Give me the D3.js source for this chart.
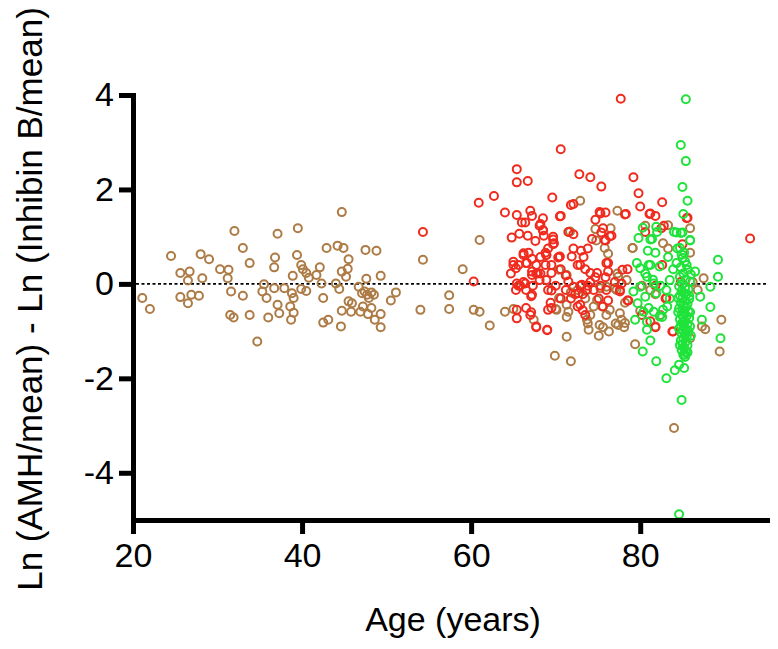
<!DOCTYPE html>
<html><head><meta charset="utf-8">
<script src="https://cdn.jsdelivr.net/npm/d3@7"></script>
<style>body{margin:0;background:#fff} svg{display:block} text{font-family:"Liberation Sans",Arial,sans-serif}</style>
</head><body><svg id="c" width="778" height="649"></svg>
<script>
const xTicks=[20,40,60,80];
const yTicks=[4,2,0,-2,-4];
const xTitle="Age (years)";
const yTitle="Ln (AMH/mean) - Ln (Inhibin B/mean)";

const brown=[[21.1,-0.30],[22.0,-0.53],[24.5,0.59],[25.6,0.23],[26.7,0.26],[26.5,0.07],[25.6,-0.28],[26.9,-0.23],[26.5,-0.41],[27.8,-0.25],[28.0,0.63],[29.0,0.52],[28.2,0.12],[30.3,0.31],[31.3,0.30],[31.2,0.12],[31.6,-0.16],[32.0,1.12],[33.0,0.76],[33.8,0.44],[33.0,-0.25],[31.5,-0.66],[31.9,-0.71],[33.8,-0.66],[34.7,-1.22],[35.5,-0.01],[35.3,-0.16],[35.8,-0.30],[36.7,-0.09],[37.1,-0.44],[36.0,-0.71],[37.3,-0.62],[37.1,1.06],[36.8,0.56],[36.7,0.35],[37.9,-0.09],[38.8,-0.20],[39.0,-0.30],[38.9,0.17],[38.6,-0.48],[39.0,-0.61],[38.7,-0.76],[39.5,1.18],[39.4,0.61],[39.9,0.40],[40.1,0.31],[40.5,0.23],[40.8,0.13],[39.9,-0.11],[40.5,-0.15],[41.7,0.19],[42.1,0.35],[42.3,0.01],[42.5,-0.30],[42.5,-0.82],[43.1,-0.76],[42.9,0.76],[44.2,0.81],[44.9,0.76],[44.7,1.52],[45.5,0.52],[44.7,0.26],[45.4,0.32],[45.2,0.15],[44.0,0.01],[44.4,-0.11],[44.7,-0.57],[44.6,-0.90],[45.5,-0.37],[45.9,-0.41],[45.8,-0.59],[46.7,-0.06],[47.1,-0.20],[47.4,-0.16],[47.7,-0.23],[48.2,-0.18],[48.5,-0.23],[47.9,-0.30],[47.6,0.11],[47.5,0.72],[48.8,0.70],[49.3,0.17],[47.2,-0.48],[46.9,-0.59],[47.8,-0.64],[48.2,-0.51],[49.3,-0.64],[48.6,-0.76],[49.3,-0.92],[50.5,-0.35],[51.1,-0.18],
[54.0,-0.55],[54.3,0.51],[57.4,-0.24],[57.4,-0.53],[59.0,0.31],[60.3,-0.55],[61.0,-0.59],[61.0,0.93],[62.2,-0.88],[64.0,-0.59],[65.0,-0.53],[67.4,-0.76],[70.4,-0.30],[71.3,-0.44],[71.5,-0.59],[70.1,-0.55],[70.4,0.30],[71.3,0.19],
[70.0,-0.53],[69.9,-1.52],[71.3,-1.12],[71.8,-1.64],[71.3,-0.70],[71.6,1.10],[72.9,1.76],[73.5,-0.31],[73.8,-0.84],[73.7,-0.76],[73.9,-0.97],[74.1,-0.66],[74.5,-0.48],[75.1,-1.10],[75.6,-0.92],[75.5,-0.48],[76.3,-1.01],[76.4,-0.55],[76.0,-0.66],[77.1,-0.84],[77.6,-0.62],[77.8,-0.76],[78.2,-0.83],[78.1,-0.92],[77.4,-0.87],[75.2,-0.87],[77.3,1.55],[74.7,1.16],[76.5,1.18],[71.7,1.11],[74.8,0.92],[75.8,0.76],[76.2,0.64],[77.3,0.22],[77.0,-0.09],[75.3,-0.09],[74.9,-0.34],[73.6,-0.13],[72.6,-0.13],[71.8,-0.18],[76.0,-0.06],[77.2,-0.13],[78.4,0.08],[77.4,0.15],[79.1,0.76],[79.4,-1.28],[80.2,-0.04],[80.6,1.23],[80.0,-0.57],[81.2,-0.13],[81.8,-0.22],[81.8,-0.90],[82.4,-0.66],[83.3,1.24],[82.7,0.86],[83.3,0.75],[84.0,-3.05],[85.9,-1.15],[85.9,1.18],[85.9,0.66],[86.2,0.04],[86.8,-0.13],[87.5,0.12],[87.7,-0.96],[87.3,-0.90],[89.6,-0.76],[89.4,-1.43],[79.1,0.76],[78.2,-0.40]];

const red=[[54.3,1.10],[60.3,0.05],[60.9,1.72],[62.7,1.86],[64.0,1.51],[65.4,2.43],[65.4,2.15],[66.7,2.18],[70.6,2.85],[72.8,2.32],[74.1,2.26],[75.4,2.06],[79.2,2.26],[79.8,1.92],[80.0,1.64],[82.6,1.73],[77.7,3.92],[69.6,1.83],[72.1,1.69],[65.4,1.46],[67.0,1.55],[67.2,1.44],[68.5,1.39],[70.6,1.44],[75.2,1.52],[75.9,1.51],[78.3,1.48],[81.1,1.48],[81.8,1.44],[85.5,1.39],[66.0,1.30],[66.4,1.30],[68.1,1.23],[68.5,1.13],[82.5,1.18],[64.8,0.98],[65.7,1.06],[66.7,1.02],[67.6,0.91],[68.6,1.02],[69.7,1.00],[69.8,0.86],[75.4,1.09],[75.8,0.93],[76.6,1.02],[74.3,0.95],[93.0,0.96],[70.5,0.58],[66.2,0.65],[68.9,0.61],
[65.0,0.47],[65.6,0.40],[66.2,0.61],[66.6,0.44],[67.2,0.26],[65.4,0.01],[65.8,-0.04],[66.4,0.01],[67.2,0.19],[68.1,0.08],[68.9,0.08],[69.5,0.23],[68.9,0.61],[70.4,0.57],[71.9,0.58],[72.9,0.40],[74.1,0.23],[74.9,0.23],[76.0,0.44],[76.2,0.26],[71.5,0.05],[72.1,-0.06],[73.1,-0.02],[73.7,-0.13],[72.7,-0.20],[76.0,-0.13],[77.6,-0.16],[77.8,0.01],[77.9,0.30],[69.5,0.40],[64.7,0.22],[65.0,0.40],[65.3,0.33],[66.5,0.44],[67.7,0.40],[68.2,0.57],[68.8,0.40],[70.3,0.56],[70.6,0.31],[71.2,0.18],[73.0,0.70],[73.8,0.75],[73.3,0.57],[72.6,0.40],[73.5,0.31],[72.1,0.75],[69.1,0.75],[68.8,0.66],[66.8,0.66],[67.2,0.53],[68.2,0.22],[67.7,0.22],[67.3,-0.04],[66.5,-0.13],[69.1,-0.13],[70.0,-0.04],[70.6,-0.31],[71.2,-0.13],[71.8,-0.31],[72.3,-0.22],[73.2,-0.22],[73.8,-0.04],[74.1,0.04],[74.7,0.14],[75.3,-0.04],[77.0,0.04],[77.6,-0.13],[78.5,0.31],[78.5,-0.35],[72.9,-0.04],[65.6,-0.04],[65.3,-0.13],[66.2,0.04],
[65.4,-0.55],[65.4,-0.73],[66.5,-0.51],[67.1,-0.60],[67.7,-0.90],[69.0,-0.97],[69.1,-0.55],[69.5,-0.51],[67.2,-0.23],[69.5,-0.14],[72.9,-0.44],[73.2,-0.56],[78.6,-0.35],[83.9,-1.01],[83.1,-0.30],[75.1,-0.31],[75.6,-0.48],[76.2,-0.35],[72.6,-0.48],[73.5,-0.66],[80.2,-0.66],[81.2,-0.79],[81.8,-0.92],[83.8,-1.01],[85.0,0.84],[82.8,1.23],[82.6,0.40],[81.8,-0.04],[83.0,-0.31],[84.8,0.04],[80.6,1.10],[69.4,-0.40],[69.0,-0.98],[67.7,-0.92],[67.0,-0.66],[67.1,-0.26],[67.9,0.22],[68.5,1.14],[68.2,1.27],[69.7,0.94],[69.7,0.84],[70.5,1.43],[71.8,1.67],[71.5,1.10],[72.1,1.05],[74.7,1.36],[75.3,1.49],[75.6,1.18],[75.9,0.92],[76.4,1.01],[76.2,0.44],[75.9,0.14],[74.5,-0.13],[78.2,1.47],[81.2,1.49],[85.6,1.40]];

const green=[[85.4,3.91],[84.8,2.94],[85.4,2.60],[85.0,2.05],[85.6,1.76],[85.1,1.48],[81.9,1.21],[79.8,0.97],[81.4,0.95],[84.3,1.09],[85.0,1.09],[85.9,0.93],[84.7,0.76],[89.2,0.51],[89.2,0.15],[88.3,-0.06],[87.1,-0.27],[88.3,-0.49],[87.3,-0.76],[89.5,-1.15],[86.5,0.26],[79.6,0.44],[80.0,-0.06],[79.4,-0.76],[80.8,-0.97],[81.2,-1.20],[80.3,-1.43],[81.9,-1.64],[83.1,-2.00],[84.1,-1.83],[84.6,-1.71],[85.2,-1.78],[84.9,-2.46],[85.3,-1.50],[80.6,-0.27],[81.0,-0.51],[81.6,-0.59],[82.3,-0.69],[82.7,-0.55],[81.9,-0.20],[80.8,0.15],[81.6,0.01],[83.1,-0.13],[83.5,0.08],[82.3,0.37],[84.3,0.44],[80.0,0.33],[81.0,0.40],[79.2,-0.16],[79.7,-0.41],[80.8,-0.80],[80.4,-0.59],[84.6,-4.88],[80.3,1.19],[81.2,0.94],[80.9,0.70],[81.8,0.66],[82.0,1.10],[81.2,0.40],[80.6,0.22],[81.5,0.09],[82.4,-0.04],[83.5,-0.31],[83.9,0.31],[83.3,0.57],[83.2,-0.48],[82.6,-0.70],[84.4,0.75],[85.2,0.66],[84.0,1.10],[84.8,1.08],[85.9,0.92],
[85.0,0.55],[85.3,0.48],[84.8,0.35],[85.6,0.30],[85.1,0.22],[84.7,0.15],[85.4,0.10],[85.9,0.05],[85.0,0.00],[84.6,-0.05],[85.3,-0.08],[85.7,-0.12],[84.9,-0.15],[85.2,-0.20],[85.5,-0.22],[84.7,-0.25],[85.0,-0.30],[85.8,-0.32],[85.3,-0.35],[84.8,-0.40],[85.6,-0.42],[85.1,-0.45],[85.4,-0.50],[84.6,-0.52],[85.0,-0.55],[85.7,-0.58],[85.2,-0.60],[84.9,-0.65],[85.5,-0.68],[85.1,-0.70],[85.8,-0.72],[84.7,-0.75],[85.3,-0.78],[85.0,-0.82],[85.6,-0.85],[84.8,-0.88],[85.2,-0.90],[85.4,-0.95],[85.0,-0.98],[85.7,-1.00],[84.9,-1.05],[85.3,-1.08],[85.5,-1.12],[85.1,-1.15],[84.8,-1.20],[85.4,-1.22],[85.0,-1.28],[85.6,-1.30],[85.2,-1.35],[84.9,-1.40],[85.4,-1.45],[85.1,-1.50],[85.3,-1.55],[85.8,-0.25],[85.9,-0.60],[85.9,-0.90],[84.6,-0.95],[84.5,-0.60],[84.5,-0.30],[86.0,-1.10],[86.0,0.20],[85.5,0.40],[84.9,0.62],[85.6,-1.45],[84.7,-1.30]];

const colors={brown:"#AD7B45",red:"#F02B1E",green:"#1FE33A"};

const svg=d3.select("#c");
const x=d3.scaleLinear().domain([20,95]).range([133,767]);
const y=d3.scaleLinear().domain([-5,4]).range([520,95]);

svg.append("line").attr("x1",x(20)+3).attr("x2",x(95)).attr("y1",y(0)).attr("y2",y(0))
  .attr("stroke","#000").attr("stroke-width",1.8).attr("stroke-dasharray","3,2.5");

function draw(data,color){
  svg.append("g").selectAll("circle").data(data).join("circle")
    .attr("cx",d=>x(d[0])).attr("cy",d=>y(d[1])).attr("r",4)
    .attr("fill","none").attr("stroke",color).attr("stroke-width",2);
}
draw(brown,colors.brown);
draw(red,colors.red);
draw(green,colors.green);

const xa=svg.append("g").attr("transform",`translate(0,${y(-5)})`)
  .call(d3.axisBottom(x).tickValues(xTicks).tickFormat(d3.format("d")).tickSize(14).tickSizeOuter(0).tickPadding(9));
const ya=svg.append("g").attr("transform",`translate(${x(20)},0)`)
  .call(d3.axisLeft(y).tickValues(yTicks).tickFormat(d3.format("d")).tickSize(14).tickSizeOuter(0).tickPadding(5));
[xa,ya].forEach(a=>{
  a.select(".domain").attr("stroke","#000").attr("stroke-width",5).attr("stroke-linecap","square");
  a.selectAll(".tick line").attr("stroke","#000").attr("stroke-width",5);
  a.selectAll(".tick text").attr("fill","#000").style("font-size","34px").style("font-family","'Liberation Sans',Arial,sans-serif");
});
ya.selectAll(".tick text").text(d=>d<0?"-"+Math.abs(d):d);

svg.append("text").attr("x",453).attr("y",631).attr("text-anchor","middle")
  .style("font-size","34px").attr("fill","#000").text(xTitle);
svg.append("text").attr("transform","translate(42,299) rotate(-90)").attr("text-anchor","middle")
  .style("font-size","35px").attr("fill","#000").text(yTitle);
</script></body></html>
